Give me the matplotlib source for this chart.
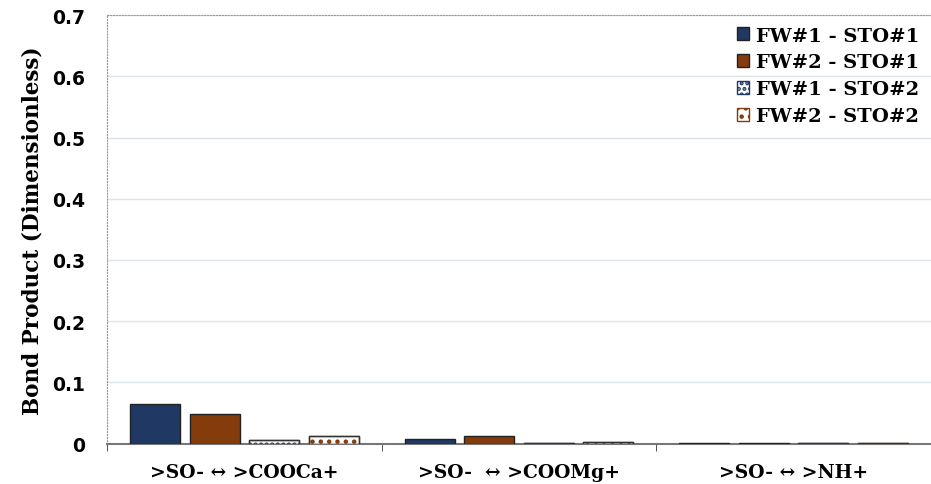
import numpy as np
import matplotlib
matplotlib.use('Agg')
import matplotlib.pyplot as plt

plt.rcParams['font.family'] = ['DejaVu Serif']
plt.rcParams['font.weight'] = 'bold'
plt.rcParams['hatch.linewidth'] = 2.0

# data
categories = ['>SO- \u2194 >COOCa+', '>SO-  \u2194 >COOMg+', '>SO- \u2194 >NH+']
series_names = ['FW#1 - STO#1', 'FW#2 - STO#1', 'FW#1 - STO#2', 'FW#2 - STO#2']
fw1_sto1 = [0.065, 0.007, 0.001]
fw2_sto1 = [0.049, 0.012, 0.001]
fw1_sto2 = [0.006, 0.002, 0.001]
fw2_sto2 = [0.013, 0.003, 0.001]

fig, ax = plt.subplots(figsize=(9.31, 4.85), dpi=100)
fig.subplots_adjust(left=0.115, right=1.0, top=0.967, bottom=0.083)

x = np.arange(len(categories))
w = 0.182
step = 0.217
styles = [
    dict(color='#1F3864', edgecolor='#222222'),
    dict(color='#843C0C', edgecolor='#222222'),
    dict(facecolor='white', edgecolor='#1F3864', hatch='...'),
    dict(facecolor='white', edgecolor='#843C0C', hatch='..'),
]
vals = [fw1_sto1, fw2_sto1, fw1_sto2, fw2_sto2]
for i, (v, st, nm) in enumerate(zip(vals, styles, series_names)):
    ax.bar(x + (i - 1.5) * step, v, w, label=nm, linewidth=1.0, zorder=3, **st)
    if i >= 2:
        # dark outline on top of hatched bars
        ax.bar(x + (i - 1.5) * step, v, w, facecolor='none', edgecolor='#333333',
               linewidth=1.0, zorder=4)

ax.set_xlim(-0.5, 2.5)
ax.set_ylim(0, 0.7)
ax.set_yticks(np.arange(0, 0.71, 0.1))
ax.set_yticklabels(['0', '0.1', '0.2', '0.3', '0.4', '0.5', '0.6', '0.7'],
                   family='DejaVu Sans', fontweight='bold', fontsize=13.5)
ax.set_xticks(x)
ax.set_xticklabels(categories, fontweight='bold', fontsize=13.5)
ax.set_xticks([-0.5, 0.5, 1.5, 2.5], minor=True)
ax.tick_params(axis='x', which='major', length=0, pad=14)
ax.tick_params(axis='x', which='minor', length=5, color='#333333')
ax.tick_params(axis='y', length=0, pad=16)

ax.set_ylabel('Bond Product (Dimensionless)', fontsize=15.5, fontweight='bold', labelpad=6)

ax.grid(axis='y', color='#DCE3EC', linewidth=1.0, zorder=0)
ax.spines['right'].set_visible(False)
ax.spines['top'].set_linestyle(':')
ax.spines['top'].set_color('#999999')
ax.spines['left'].set_linestyle(':')
ax.spines['left'].set_color('#999999')
ax.spines['bottom'].set_color('#777777')
ax.spines['bottom'].set_linewidth(1.5)

ax.legend(loc='upper right', frameon=False, handlelength=0.65,
          handleheight=0.65, handletextpad=0.35, labelspacing=0.45,
          borderaxespad=0.2, prop={'weight': 'bold', 'size': 14})

fig.savefig('out.png', dpi=100)
